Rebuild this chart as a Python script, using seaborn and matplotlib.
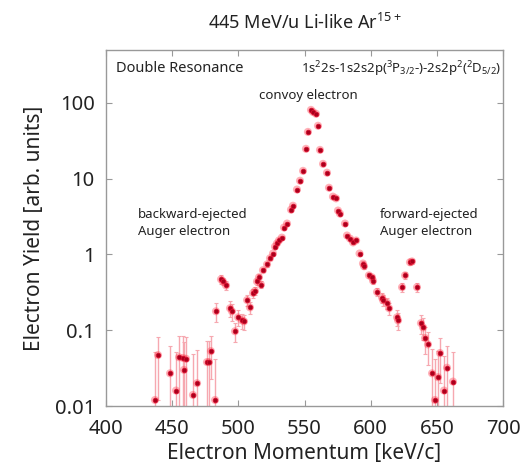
import numpy as np
import pandas as pd
import matplotlib
matplotlib.use("Agg")
import matplotlib.pyplot as plt
import seaborn as sns

# ---- data ----
momentum = [437.0, 439.3, 448.4, 452.9, 455.2, 458.2, 458.9, 460.5, 465.7, 468.8,
            476.3, 477.8, 479.3, 482.4,
            483.1, 486.9, 488.4, 490.7, 493.7, 495.2, 497.5, 499.8, 502.8, 504.3,
            506.6, 508.8, 511.1, 512.6, 514.1, 515.6, 517.1, 518.6, 521.7, 523.9,
            526.2, 527.7, 529.2, 530.7, 532.9, 534.5, 536.8, 539.8, 541.3, 544.3,
            546.6, 548.9, 551.1, 552.6, 554.9, 556.4, 558.7, 560.2, 561.7, 564.0,
            567.0, 568.5, 571.5, 573.8, 575.3, 576.8, 580.6, 582.1, 584.4, 586.7,
            589.0, 591.6, 594.2, 595.0, 598.7, 601.0, 601.8, 604.8, 608.6, 609.3,
            612.4, 613.9, 619.9, 620.7,
            623.7, 626.0, 629.7, 631.2, 635.0, 638.0, 639.6, 641.1, 643.3,
            646.4, 648.6, 650.9, 652.4, 655.4, 657.7, 662.2]
yield_ = [0.012, 0.047, 0.027, 0.016, 0.044, 0.043, 0.030, 0.042, 0.014, 0.020,
          0.038, 0.038, 0.053, 0.012,
          0.178, 0.47, 0.44, 0.39, 0.195, 0.178, 0.097, 0.148, 0.135, 0.131,
          0.25, 0.20, 0.31, 0.33, 0.44, 0.50, 0.40, 0.62, 0.74, 0.89,
          1.03, 1.27, 1.40, 1.53, 1.67, 2.27, 2.56, 3.9, 4.4, 7.2,
          9.4, 12.7, 24.8, 41.5, 81.0, 76.0, 72.0, 50.0, 24.0, 15.7,
          12.0, 7.6, 5.8, 5.5, 3.8, 3.46, 2.56, 1.78, 1.62, 1.44,
          1.53, 1.03, 0.76, 0.70, 0.53, 0.50, 0.45, 0.32, 0.27, 0.25,
          0.23, 0.195, 0.148, 0.135,
          0.37, 0.53, 0.79, 0.81, 0.37, 0.124, 0.109, 0.079, 0.065,
          0.027, 0.012, 0.024, 0.050, 0.016, 0.032, 0.021]
yield_err = [0.040, 0.035, 0.035, 0.035, 0.040, 0.040, 0.040, 0.040, 0.035, 0.035,
             0.035, 0.035, 0.030, 0.030,
             0.050, 0.06, 0.05, 0.05, 0.045, 0.045, 0.028, 0.035, 0.030, 0.030,
             0.04, 0.035, 0.04, 0.04, 0.04, 0.05, 0.04, 0.04, 0.05, 0.05,
             0.06, 0.06, 0.07, 0.07, 0.08, 0.09, 0.10, 0.12, 0.13, 0.2,
             0.25, 0.3, 0.5, 0.8, 1.5, 1.4, 1.3, 1.0, 0.5, 0.4,
             0.3, 0.2, 0.15, 0.15, 0.12, 0.1, 0.09, 0.07, 0.07, 0.06,
             0.06, 0.05, 0.05, 0.05, 0.04, 0.04, 0.04, 0.04, 0.04, 0.04,
             0.04, 0.035, 0.035, 0.035,
             0.05, 0.06, 0.07, 0.07, 0.05, 0.035, 0.035, 0.03, 0.03,
             0.03, 0.03, 0.03, 0.03, 0.03, 0.03, 0.03]

xticks = [400, 450, 500, 550, 600, 650, 700]
yticks = [0.01, 0.1, 1, 10, 100]
ytick_labels = ["0.01", "0.1", "1", "10", "100"]

df = pd.DataFrame({"momentum": momentum, "yield": yield_, "err": yield_err})

sns.set_theme(style="ticks")
plt.rcParams["font.family"] = ["Noto Sans", "DejaVu Sans"]
plt.rcParams["mathtext.fontset"] = "custom"
plt.rcParams["mathtext.rm"] = "Noto Sans"
plt.rcParams["mathtext.it"] = "Noto Sans"

fig = plt.figure(figsize=(5.23, 4.70), dpi=100)
ax = fig.add_axes([106/523, 1 - 406/470, 397/523, 356/470])

ax.errorbar(df["momentum"], df["yield"], yerr=df["err"], fmt="none",
            ecolor="#f6a8b0", elinewidth=1.0, capsize=1.5, capthick=0.8, zorder=2)
sns.scatterplot(data=df, x="momentum", y="yield", ax=ax, s=34, color="#ff4050",
                alpha=0.40, edgecolor="none", zorder=3, legend=False)
sns.scatterplot(data=df, x="momentum", y="yield", ax=ax, s=11, color="#a8001c",
                edgecolor="#d81030", linewidth=0.6, zorder=4, legend=False)

ax.set_yscale("log")
ax.set_xlim(400, 700)
ax.set_ylim(0.01, 500)
ax.set_xticks(xticks)
ax.set_xticklabels([str(t) for t in xticks])
ax.set_yticks(yticks)
ax.set_yticklabels(ytick_labels)
ax.minorticks_off()
ax.tick_params(axis="both", which="both", direction="in", top=True, right=True,
               length=4, width=0.8, color="#999999", labelsize=14.5,
               labelcolor="#222222")
ax.tick_params(axis="x", pad=9)
ax.tick_params(axis="y", pad=8)
for sp in ax.spines.values():
    sp.set_color("#999999")
    sp.set_linewidth(1.0)

ax.set_xlabel("Electron Momentum [keV/c]", fontsize=15, color="#222222", labelpad=3)
ax.set_ylabel("Electron Yield [arb. units]", fontsize=15, color="#222222", labelpad=7)
ax.set_title("445 MeV/u Li-like Ar$^{15+}$", fontsize=13, color="#222222", pad=15)

ax.text(0.025, 0.97, "Double Resonance", transform=ax.transAxes, fontsize=10.5,
        ha="left", va="top", color="#222222")
ax.text(0.995, 0.975, "1s$^2$2s-1s2s2p($^3$P$_{3/2}$-)-2s2p$^2$($^2$D$_{5/2}$)",
        transform=ax.transAxes, fontsize=9.5, ha="right", va="top", color="#222222")
ax.text(0.51, 0.89, "convoy electron", transform=ax.transAxes, fontsize=9.5,
        ha="center", va="top", color="#222222")
ax.text(0.08, 0.555, "backward-ejected\nAuger electron", transform=ax.transAxes,
        fontsize=9.5, ha="left", va="top", color="#222222", linespacing=1.35)
ax.text(0.69, 0.555, "forward-ejected\nAuger electron", transform=ax.transAxes,
        fontsize=9.5, ha="left", va="top", color="#222222", linespacing=1.35)

fig.savefig("out.png", dpi=100)
